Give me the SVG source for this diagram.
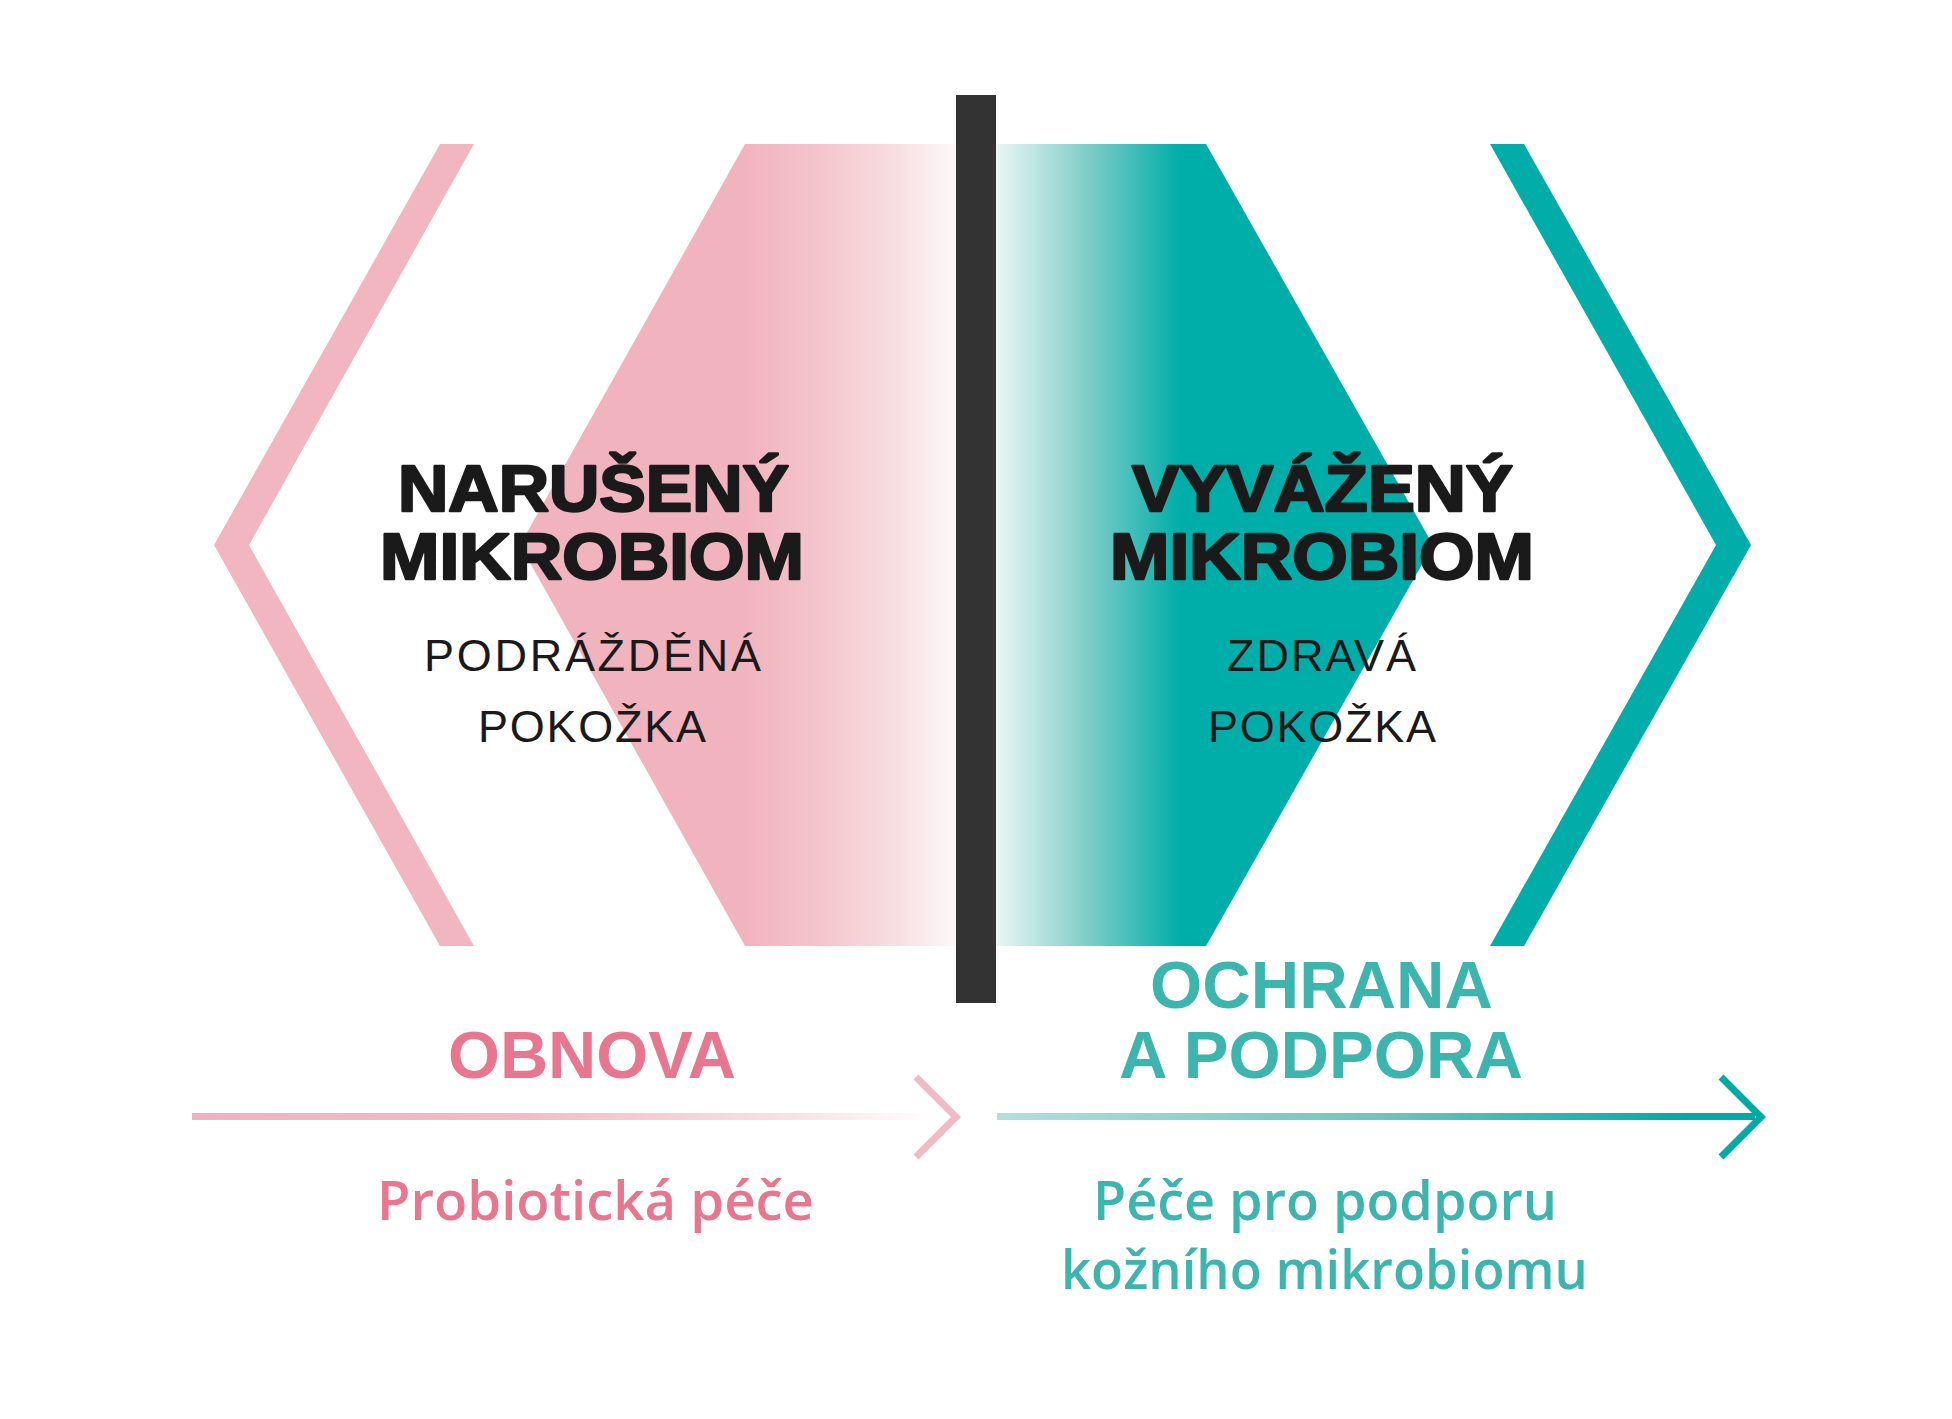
<svg xmlns="http://www.w3.org/2000/svg" width="1952" height="1419" viewBox="0 0 1952 1419">
<defs>
<linearGradient id="gPinkHex" gradientUnits="userSpaceOnUse" x1="745" y1="0" x2="960" y2="0">
<stop offset="0" stop-color="#f1b4bf"/>
<stop offset="0.35" stop-color="#f4c5cc"/>
<stop offset="0.7" stop-color="#f8dee1"/>
<stop offset="1" stop-color="#fefafa"/>
</linearGradient>
<linearGradient id="gTealHex" gradientUnits="userSpaceOnUse" x1="996" y1="0" x2="1180" y2="0">
<stop offset="0" stop-color="#eaf6f5"/>
<stop offset="0.5" stop-color="#7fcdc8"/>
<stop offset="1" stop-color="#00aea9"/>
</linearGradient>
<linearGradient id="gPinkLine" gradientUnits="userSpaceOnUse" x1="192" y1="0" x2="935" y2="0">
<stop offset="0" stop-color="#f0b1be"/>
<stop offset="0.45" stop-color="#f2bcc6"/>
<stop offset="0.8" stop-color="#f8e0e4"/>
<stop offset="1" stop-color="#ffffff"/>
</linearGradient>
<linearGradient id="gTealLine" gradientUnits="userSpaceOnUse" x1="997" y1="0" x2="1762" y2="0">
<stop offset="0" stop-color="#b2dfda"/>
<stop offset="0.5" stop-color="#6fc4be"/>
<stop offset="0.9" stop-color="#00aba6"/>
<stop offset="1" stop-color="#00aaa5"/>
</linearGradient>
<style>
.head{font-family:"Liberation Sans",Arial,sans-serif;font-weight:bold;font-size:64px;fill:#1a1a1a;stroke:#1a1a1a;stroke-width:2.4px;stroke-linejoin:round;}
.sub{font-family:"Liberation Sans",Arial,sans-serif;font-size:45px;fill:#1a1a1a;}
.actP{font-family:"Liberation Sans",Arial,sans-serif;font-weight:bold;font-size:66px;fill:#e9768f;}
.actT{font-family:"Liberation Sans",Arial,sans-serif;font-weight:bold;font-size:66px;fill:#3cb5ae;}
.careP{font-family:"Open Sans","Liberation Sans",sans-serif;font-weight:600;font-size:54px;fill:#e9768f;}
.careT{font-family:"Open Sans","Liberation Sans",sans-serif;font-weight:600;font-size:54px;fill:#3cb5ae;}
.arrP{fill:none;stroke:#f3bac5;stroke-width:7;}
.arrT{fill:none;stroke:#00aaa5;stroke-width:7;}
</style>
</defs>
<rect width="1952" height="1419" fill="#ffffff"/>

<g id="left-panel">
<polygon points="745,144 956,144 956,946 745,946 520,545" fill="url(#gPinkHex)"/>
<polygon points="440,144 474,144 249,545 474,946 440,946 214,545" fill="#f2b6c1"/>
<text class="head" x="398" y="511" textLength="391" lengthAdjust="spacingAndGlyphs">NARUŠENÝ</text>
<text class="head" x="380" y="579" textLength="424" lengthAdjust="spacingAndGlyphs">MIKROBIOM</text>
<text class="sub" x="424" y="671" textLength="337" lengthAdjust="spacing">PODRÁŽDĚNÁ</text>
<text class="sub" x="478" y="742" textLength="228" lengthAdjust="spacing">POKOŽKA</text>
</g>

<g id="right-panel">
<polygon points="996,144 1206,144 1433,545 1206,946 996,946" fill="url(#gTealHex)"/>
<polygon points="1490,144 1524,144 1751,545 1524,946 1490,946 1716,545" fill="#00ada9"/>
<text class="head" x="1132" y="511" textLength="381" lengthAdjust="spacingAndGlyphs">VYVÁŽENÝ</text>
<text class="head" x="1110" y="579" textLength="424" lengthAdjust="spacingAndGlyphs">MIKROBIOM</text>
<text class="sub" x="1227" y="671" textLength="189" lengthAdjust="spacing">ZDRAVÁ</text>
<text class="sub" x="1208" y="742" textLength="228" lengthAdjust="spacing">POKOŽKA</text>
</g>

<g id="divider">
<rect x="956" y="95" width="40" height="908" fill="#333333"/>
</g>

<g id="connectors">
<rect x="192" y="1113" width="736" height="7" fill="url(#gPinkLine)"/>
<polyline class="arrP" points="916,1077 956,1117 916,1157"/>
<rect x="997" y="1113" width="758" height="7" fill="url(#gTealLine)"/>
<polyline class="arrT" points="1721,1077 1761,1117 1721,1157"/>
</g>

<g id="label-obnova">
<text class="actP" x="448" y="1078" textLength="288" lengthAdjust="spacingAndGlyphs">OBNOVA</text>
<text class="careP" x="377" y="1220" textLength="437" lengthAdjust="spacingAndGlyphs">Probiotická péče</text>
</g>

<g id="label-ochrana">
<text class="actT" x="1150" y="1008" textLength="343" lengthAdjust="spacingAndGlyphs">OCHRANA</text>
<text class="actT" x="1119" y="1078" textLength="404" lengthAdjust="spacingAndGlyphs">A PODPORA</text>
<text class="careT" x="1093" y="1220" textLength="464" lengthAdjust="spacingAndGlyphs">Péče pro podporu</text>
<text class="careT" x="1061" y="1289" textLength="527" lengthAdjust="spacingAndGlyphs">kožního mikrobiomu</text>
</g>
</svg>
